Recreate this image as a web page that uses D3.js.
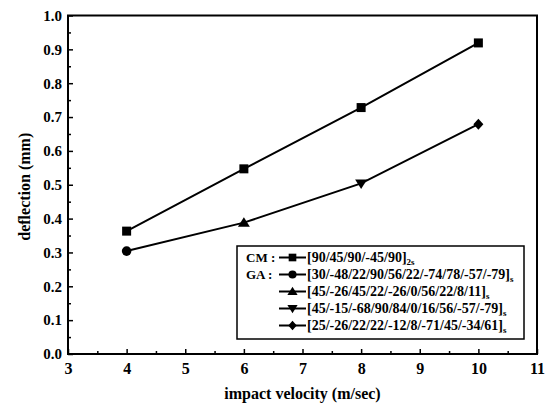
<!DOCTYPE html>
<html><head><meta charset="utf-8">
<script src="https://cdn.jsdelivr.net/npm/d3@7/dist/d3.min.js"></script>
<style>body{margin:0;background:#fff}svg{display:block}</style>
</head><body>
<script>
const velocities = [4, 6, 8, 10];
const cmValues = [0.363, 0.547, 0.728, 0.919];
const gaValues = [0.304, 0.388, 0.504, 0.679];
const gaSymbols = ["circle", "triangle", "invtriangle", "diamond"];
const xTicks = [3, 4, 5, 6, 7, 8, 9, 10, 11];
const yTicks = [0.0, 0.1, 0.2, 0.3, 0.4, 0.5, 0.6, 0.7, 0.8, 0.9, 1.0];
const legendGroups = ["CM :", "GA :", "", "", ""];
const legendLabels = ["[90/45/90/-45/90]", "[30/-48/22/90/56/22/-74/78/-57/-79]", "[45/-26/45/22/-26/0/56/22/8/11]", "[45/-15/-68/90/84/0/16/56/-57/-79]", "[25/-26/22/22/-12/8/-71/45/-34/61]"];
const legendSubs = ["2s", "s", "s", "s", "s"];
const legendSymbols = ["square", "circle", "triangle", "invtriangle", "diamond"];
const xTitle = "impact velocity (m/sec)";
const yTitle = "deflection (mm)";

const W = 546, H = 415;
const m = {l: 68, r: 537, t: 15.5, b: 354};
const svg = d3.select("body").append("svg").attr("width", W).attr("height", H);
const x = d3.scaleLinear().domain([3, 11]).range([m.l, m.r]);
const y = d3.scaleLinear().domain([0, 1]).range([m.b, m.t]);
const font = "'Liberation Serif', 'DejaVu Serif', serif";

function sym(g, type, cx, cy, s) {
  s = s || 1;
  if (type === "circle") g.append("circle").attr("cx", cx).attr("cy", cy).attr("r", 4.8 * s);
  else if (type === "square") g.append("rect").attr("x", cx - 4.5 * s).attr("y", cy - 4.5 * s).attr("width", 9 * s).attr("height", 9 * s);
  else if (type === "triangle") g.append("path").attr("d", `M${cx},${cy - 5.5 * s}L${cx + 6 * s},${cy + 4 * s}L${cx - 6 * s},${cy + 4 * s}Z`);
  else if (type === "invtriangle") g.append("path").attr("d", `M${cx},${cy + 5.5 * s}L${cx + 6 * s},${cy - 4 * s}L${cx - 6 * s},${cy - 4 * s}Z`);
  else if (type === "diamond") g.append("path").attr("d", `M${cx},${cy - 5.5 * s}L${cx + 5 * s},${cy}L${cx},${cy + 5.5 * s}L${cx - 5 * s},${cy}Z`);
}

// axes
const xAxis = d3.axisBottom(x).tickValues(xTicks).tickSize(-5).tickPadding(9).tickFormat(d3.format("d"));
const gx = svg.append("g").attr("transform", `translate(0,${m.b})`).call(xAxis);
const yAxis = d3.axisLeft(y).tickValues(yTicks).tickSize(-5).tickPadding(6).tickFormat(d3.format(".1f"));
const gy = svg.append("g").attr("transform", `translate(${m.l},0)`).call(yAxis);
[gx, gy].forEach(g => {
  g.select(".domain").remove();
  g.selectAll("line").attr("stroke", "#000").attr("stroke-width", 1.5);
  g.selectAll("text").attr("font-family", font).attr("font-weight", "bold").attr("font-size", 15).attr("fill", "#000");
});
gx.selectAll("text").attr("font-size", 16);
// minor ticks
const xMinor = d3.axisBottom(x).tickValues(d3.range(3.5, 11, 1)).tickSize(-3).tickFormat("");
const gxm = svg.append("g").attr("transform", `translate(0,${m.b})`).call(xMinor);
const yMinor = d3.axisLeft(y).tickValues(d3.range(0.05, 1, 0.1)).tickSize(-3).tickFormat("");
const gym = svg.append("g").attr("transform", `translate(${m.l},0)`).call(yMinor);
[gxm, gym].forEach(g => { g.select(".domain").remove(); g.selectAll("line").attr("stroke", "#000").attr("stroke-width", 1.5); });

// frame
svg.append("rect").attr("x", m.l).attr("y", m.t).attr("width", m.r - m.l).attr("height", m.b - m.t)
  .attr("fill", "none").attr("stroke", "#000").attr("stroke-width", 2);

// titles
svg.append("text").attr("x", (m.l + m.r) / 2).attr("y", 399).attr("text-anchor", "middle")
  .attr("font-family", font).attr("font-weight", "bold").attr("font-size", 16).text(xTitle);
svg.append("text").attr("transform", `translate(30,${(m.t + m.b) / 2 + 2}) rotate(-90)`).attr("text-anchor", "middle")
  .attr("font-family", font).attr("font-weight", "bold").attr("font-size", 16).text(yTitle);

// lines
const line = d3.line().x(d => x(d[0])).y(d => y(d[1]));
const cmPts = velocities.map((v, i) => [v, cmValues[i]]);
const gaPts = velocities.map((v, i) => [v, gaValues[i]]);
svg.append("path").attr("d", line(cmPts)).attr("fill", "none").attr("stroke", "#000").attr("stroke-width", 2);
svg.append("path").attr("d", line(gaPts)).attr("fill", "none").attr("stroke", "#000").attr("stroke-width", 2);
const mk = svg.append("g").attr("fill", "#000");
cmPts.forEach(p => sym(mk, "square", x(p[0]), y(p[1])));
gaPts.forEach((p, i) => sym(mk, gaSymbols[i], x(p[0]), y(p[1])));

// legend
const lg = svg.append("g");
lg.append("rect").attr("x", 237).attr("y", 246).attr("width", 287).attr("height", 93)
  .attr("fill", "#fff").attr("stroke", "#000").attr("stroke-width", 1.5);
const rowY = [257.5, 274.5, 291.5, 308.5, 325.5];
legendLabels.forEach((lab, i) => {
  const ry = rowY[i];
  if (legendGroups[i]) lg.append("text").attr("x", 246).attr("y", ry + 4.5).attr("font-family", font)
    .attr("font-weight", "bold").attr("font-size", 13).text(legendGroups[i]);
  lg.append("line").attr("x1", 279).attr("x2", 306).attr("y1", ry).attr("y2", ry).attr("stroke", "#000").attr("stroke-width", 2);
  const sg = lg.append("g").attr("fill", "#000");
  sym(sg, legendSymbols[i], 292.5, ry, 0.85);
  const t = lg.append("text").attr("x", 307).attr("y", ry + 4.5).attr("font-family", font)
    .attr("font-weight", "bold").attr("font-size", 14).text(lab);
  const w = t.node().getComputedTextLength();
  lg.append("text").attr("x", 307 + w).attr("y", ry + 7).attr("font-family", font)
    .attr("font-weight", "bold").attr("font-size", 9).text(legendSubs[i]);
});
</script>
</body></html>
